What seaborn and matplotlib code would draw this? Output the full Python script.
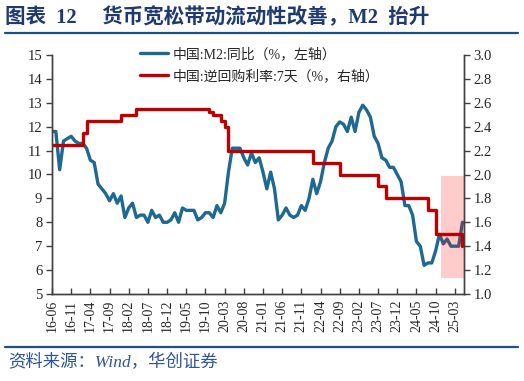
import matplotlib
matplotlib.use("Agg")
import matplotlib.pyplot as plt
from matplotlib.lines import Line2D
from matplotlib.patches import Rectangle
import seaborn as sns
import numpy as np

# ── data (monthly) ─────────────────────────────────────────
m2_yoy = [
    11.8, 11.8, 10.2, 11.4, 11.5, 11.6, 11.4, 11.3,
    11.3, 11.1, 10.6, 10.5, 9.6, 9.4, 9.2, 8.9, 9.2, 8.8, 9.1, 8.2,
    8.6, 8.8, 8.2, 8.3, 8.3, 8.0, 8.5, 8.2, 8.3, 8.0, 8.0, 8.1,
    8.4, 8.0, 8.6, 8.5, 8.5, 8.5, 8.1, 8.2, 8.4, 8.4, 8.2, 8.7,
    8.4, 8.8, 10.1, 11.1, 11.1, 11.1, 10.7, 10.4, 10.9, 10.5, 10.7, 10.1,
    9.4, 10.1, 9.4, 8.1, 8.3, 8.6, 8.3, 8.2, 8.3, 8.7, 8.5, 9.0,
    9.8, 9.2, 9.7, 10.5, 11.1, 11.4, 12.0, 12.2, 12.1, 11.8, 12.4, 11.8,
    12.6, 12.9, 12.7, 12.4, 11.6, 11.3, 10.7, 10.6, 10.3, 10.3, 10.0, 9.7,
    8.7, 8.7, 8.3, 7.2, 7.0, 6.2, 6.3, 6.3, 6.8, 7.5, 7.1, 7.3,
    7.0, 7.0, 7.0, 8.0,
]

repo_7d = [
    2.25, 2.25, 2.25, 2.25, 2.25, 2.25, 2.25, 2.25,
    2.35, 2.45, 2.45, 2.45, 2.45, 2.45, 2.45, 2.45, 2.45, 2.45,
    2.50, 2.50, 2.50, 2.50,
    2.55, 2.55, 2.55, 2.55, 2.55, 2.55, 2.55, 2.55, 2.55, 2.55,
    2.55, 2.55, 2.55, 2.55, 2.55, 2.55, 2.55, 2.55, 2.55,
    2.52, 2.50, 2.50, 2.45, 2.40,
    2.20, 2.20, 2.20, 2.20, 2.20, 2.20, 2.20, 2.20, 2.20, 2.20, 2.20,
    2.20, 2.20, 2.20, 2.20, 2.20, 2.20, 2.20, 2.20, 2.20, 2.20, 2.20,
    2.10, 2.10, 2.10, 2.10, 2.10, 2.10, 2.10,
    2.00, 2.00, 2.00, 2.00, 2.00, 2.00, 2.00, 2.00, 2.00, 2.00,
    1.90, 1.90,
    1.80, 1.80, 1.80, 1.80, 1.80, 1.80, 1.80, 1.80, 1.80, 1.80, 1.80,
    1.70, 1.70,
    1.50, 1.50, 1.50, 1.50, 1.50, 1.50, 1.50,
    1.40,
]

tick_labels = ['16-06', '16-11', '17-04', '17-09', '18-02', '18-07', '18-12',
               '19-05', '19-10', '20-03', '20-08', '21-01', '21-06', '21-11',
               '22-04', '22-09', '23-02', '23-07', '23-12', '24-05', '24-10',
               '25-03']

label_m2 = '中国:M2:同比（%，左轴）'
label_repo = '中国:逆回购利率:7天（%，右轴）'

months = np.arange(len(m2_yoy))

# ── style ──────────────────────────────────────────────────
sns.set_style('white')
plt.rcParams['font.family'] = ['Liberation Serif', 'Noto Sans CJK SC']
plt.rcParams['axes.unicode_minus'] = False

BLUE = '#1E6991'
RED = '#C00000'
NAVY = '#1F3A70'

fig = plt.figure(figsize=(5.24, 3.81), dpi=100)
ax = fig.add_axes([52 / 524, 1 - 294 / 381, 412 / 524, 239 / 381])
ax2 = ax.twinx()

sns.lineplot(x=months, y=m2_yoy, ax=ax, color=BLUE, lw=2.4, zorder=2,
             solid_joinstyle='round', solid_capstyle='round')

# highlighted latest window
ax.add_patch(Rectangle((101.3, 5.67), 6.1, 4.25, facecolor='#FF0000',
                       alpha=0.2, edgecolor='none', zorder=3))

sns.lineplot(x=np.arange(len(repo_7d)), y=repo_7d, ax=ax2, color=RED,
             lw=2.4, drawstyle='steps-post')

ax.set_xlim(0, 107.4)
ax.set_ylim(5, 15)
ax2.set_ylim(1.0, 3.0)

ax.set_yticks(range(5, 16))
ax2.set_yticks(np.arange(1.0, 3.01, 0.2))
ax2.set_yticklabels([f'{v:.1f}' for v in np.arange(1.0, 3.01, 0.2)])
ax.set_xticks(np.arange(0, 5 * len(tick_labels), 5))
ax.set_xticklabels(tick_labels, rotation=90)

for a in (ax, ax2):
    a.set_xlabel('')
    a.set_ylabel('')
    a.spines['top'].set_visible(False)
    for s in ('left', 'right', 'bottom'):
        a.spines[s].set_color('#404040')
        a.spines[s].set_linewidth(1.0)
    if a.get_legend():
        a.get_legend().remove()

ax.tick_params(axis='y', direction='out', length=4, width=1, color='#404040',
               labelsize=10.5, pad=3, left=True)
ax.tick_params(axis='x', direction='in', length=4, width=1, color='#404040',
               labelsize=10, pad=4, bottom=True)
ax2.tick_params(axis='y', direction='out', length=4, width=1, color='#404040',
                labelsize=10.5, pad=3, right=True)

handles = [Line2D([], [], color=BLUE, lw=2.4), Line2D([], [], color=RED, lw=2.4)]
ax2.legend(handles, [label_m2, label_repo], loc='upper left',
           bbox_to_anchor=(140 / 524, 1 - 47 / 381),
           bbox_transform=fig.transFigure, frameon=False, fontsize=10,
           handlelength=2.0, handletextpad=0.35, labelspacing=0.6,
           borderpad=0, borderaxespad=0)

# ── title, rules, source ───────────────────────────────────
fig.text(5 / 524, 1 - 18 / 381, '图表  12     货币宽松带动流动性改善，M2  抬升',
         fontsize=14.8, fontweight='bold', color=NAVY, va='center', ha='left')
fig.add_artist(Line2D([5 / 524, 518 / 524], [1 - 33 / 381, 1 - 33 / 381],
                      transform=fig.transFigure, color='#1F4E8C', lw=1.6))
fig.add_artist(Line2D([5 / 524, 518 / 524], [1 - 347 / 381, 1 - 347 / 381],
                      transform=fig.transFigure, color='#1F4E8C', lw=1.6))
fig.text(8 / 524, 1 - 363 / 381, '资料来源：Wind，华创证券', fontsize=12.5,
         style='italic', color='#2F5597', va='center', ha='left')

fig.savefig('out.png', dpi=100)
